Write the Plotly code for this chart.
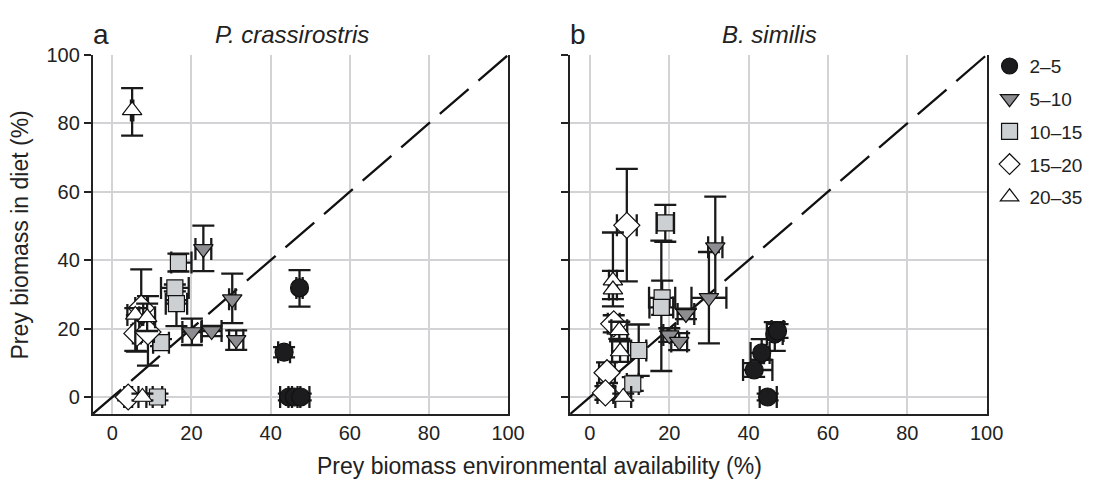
import plotly.graph_objects as go

# ---------------- data ----------------
groups = ["2–5", "5–10", "10–15", "15–20", "20–35"]

# Panel a: P. crassirostris
a_group = ["2–5"] * 5 + ["5–10"] * 5 + ["10–15"] * 5 + ["15–20"] * 4 + ["20–35"] * 4
a_x = [47.3, 43.4, 44.6, 46.0, 47.6,
       23.0, 30.3, 20.1, 25.1, 31.3,
       16.7, 15.8, 16.2, 12.3, 11.4,
       7.3, 6.2, 9.0, 4.0,
       5.0, 5.8, 8.8, 7.6]
a_y = [31.9, 13.1, 0.0, 0.0, 0.0,
       43.3, 28.6, 19.0, 19.3, 16.7,
       39.3, 31.9, 27.3, 15.9, 0.0,
       26.0, 18.6, 19.0, 0.0,
       83.8, 24.0, 23.3, 0.0]
a_ex_lo = [0.8, 1.5, 2.2, 1.5, 2.2,
           2.0, 0.8, 2.4, 2.5, 1.8,
           1.8, 3.5, 2.7, 2.0, 1.2,
           1.5, 1.0, 1.5, 1.0,
           0.3, 2.0, 2.0, 1.0]
a_ex_hi = [0.8, 1.5, 2.2, 1.5, 2.2,
           2.0, 0.8, 2.4, 2.5, 1.8,
           3.3, 3.5, 2.7, 2.0, 1.2,
           1.5, 1.0, 1.5, 1.0,
           0.3, 2.0, 2.0, 1.0]
a_ey_lo = [5.5, 1.5, 1.0, 1.0, 1.0,
           6.5, 7.0, 3.8, 1.5, 2.9,
           2.6, 1.0, 6.6, 1.0, 1.0,
           5.0, 5.3, 9.8, 1.0,
           7.4, 10.5, 4.0, 1.0]
a_ey_hi = [5.2, 1.5, 1.0, 1.0, 1.0,
           6.8, 7.5, 3.9, 1.5, 2.8,
           2.6, 1.0, 1.0, 1.0, 1.0,
           11.3, 5.3, 10.5, 1.0,
           6.5, 2.0, 4.0, 1.0]

# Panel b: B. similis
b_group = ["2–5"] * 5 + ["5–10"] * 5 + ["10–15"] * 5 + ["15–20"] * 4 + ["20–35"] * 5
b_x = [46.6, 47.3, 43.3, 41.4, 44.8,
       31.6, 30.0, 24.2, 20.0, 22.5,
       19.0, 18.2, 18.0, 12.3, 10.8,
       9.3, 6.0, 4.3, 3.9,
       5.8, 5.8, 7.4, 7.6, 8.4]
b_y = [18.4, 19.3, 12.9, 7.9, 0.0,
       43.8, 29.0, 24.3, 18.1, 16.2,
       50.9, 29.0, 26.2, 13.6, 3.8,
       50.2, 21.4, 7.1, 1.2,
       34.0, 31.4, 19.5, 13.3, 0.0]
b_ex_lo = [2.0, 1.5, 2.8, 2.8, 2.0,
           1.8, 4.4, 2.1, 1.5, 2.0,
           2.2, 3.3, 3.0, 1.9, 1.5,
           2.5, 1.5, 2.0, 2.0,
           1.0, 1.0, 2.0, 2.0, 2.0]
b_ex_hi = [2.0, 1.5, 2.0, 4.6, 2.3,
           1.8, 4.4, 2.1, 1.5, 2.0,
           2.2, 3.3, 3.0, 1.9, 1.5,
           2.5, 1.5, 2.0, 2.0,
           1.0, 1.0, 2.0, 2.0, 2.0]
b_ey_lo = [4.9, 2.0, 2.0, 2.0, 1.0,
           14.8, 13.3, 1.5, 2.0, 2.5,
           5.5, 5.0, 18.6, 7.4, 2.0,
           16.4, 2.5, 3.0, 2.0,
           5.4, 4.9, 2.5, 3.0, 1.0]
b_ey_hi = [3.5, 2.0, 4.0, 2.0, 1.0,
           14.8, 13.4, 1.5, 2.0, 2.5,
           5.3, 5.0, 19.5, 7.6, 2.0,
           16.5, 2.5, 3.0, 2.0,
           2.9, 16.7, 2.5, 3.0, 1.0]

diag = [-5, 100]
tick_vals = [0, 20, 40, 60, 80, 100]

# ---------------- styles ----------------
style = {
    "2–5": dict(symbol="circle", color="#1c1c1e", size=18),
    "5–10": dict(symbol="triangle-down", color="#8d8d91", size=17),
    "10–15": dict(symbol="square", color="#cdd0d3", size=16),
    "15–20": dict(symbol="diamond", color="#ffffff", size=20),
    "20–35": dict(symbol="triangle-up", color="#ffffff", size=17),
}
FONT = "Liberation Sans, Arial, Helvetica, sans-serif"
EB = dict(type="data", symmetric=False, color="#1a1a1a", thickness=2.3, width=11)

fig = go.Figure()

panels = [
    ("x", "y", a_group, a_x, a_y, a_ex_lo, a_ex_hi, a_ey_lo, a_ey_hi, False),
    ("x2", "y2", b_group, b_x, b_y, b_ex_lo, b_ex_hi, b_ey_lo, b_ey_hi, True),
]

for xa, ya, grp, xs, ys, exl, exh, eyl, eyh, show in panels:
    fig.add_trace(go.Scatter(x=diag, y=diag, xaxis=xa, yaxis=ya, mode="lines",
                             line=dict(color="#111111", width=2.3, dash="38px,13px"),
                             showlegend=False, hoverinfo="skip"))
    for g in groups:
        idx = [i for i, v in enumerate(grp) if v == g]
        st = style[g]
        fig.add_trace(go.Scatter(
            x=[xs[i] for i in idx], y=[ys[i] for i in idx],
            xaxis=xa, yaxis=ya, mode="markers", name=g, legendgroup=g,
            showlegend=show,
            marker=dict(symbol=st["symbol"], size=st["size"], color=st["color"],
                        line=dict(color="#111111", width=1.2)),
            error_x=dict(EB, array=[exh[i] for i in idx], arrayminus=[exl[i] for i in idx]),
            error_y=dict(EB, array=[eyh[i] for i in idx], arrayminus=[eyl[i] for i in idx]),
        ))

W, H = 1106, 483
def px_x(p): return p / W
def px_y(p): return 1 - p / H

axis_common = dict(range=[-5, 100], tickvals=tick_vals, showgrid=True,
                   gridcolor="#d3d3d5", gridwidth=1.5, zeroline=False,
                   showline=True, linecolor="#222222", linewidth=1.5,
                   tickfont=dict(family=FONT, size=20, color="#222222"))

fig.update_layout(
    width=W, height=H,
    margin=dict(l=0, r=0, t=0, b=0),
    paper_bgcolor="white", plot_bgcolor="white",
    font=dict(family=FONT, color="#222222"),
    xaxis=dict(axis_common, domain=[px_x(94), px_x(516)], anchor="y", ticks=""),
    yaxis=dict(axis_common, domain=[px_y(412.5), px_y(45)], anchor="x",
               ticks="outside", ticklen=7, tickwidth=1.5, tickcolor="#222222", mirror=True),
    xaxis2=dict(axis_common, domain=[px_x(579), px_x(1002)], anchor="y2", ticks=""),
    yaxis2=dict(axis_common, domain=[px_y(412.5), px_y(45)], anchor="x2",
                ticks="outside", ticklen=7, tickwidth=1.5, tickcolor="#222222",
                showticklabels=False, mirror=True),
    legend=dict(x=px_x(1005), y=px_y(37), xanchor="left", yanchor="top",
                font=dict(family=FONT, size=19, color="#222222"),
                tracegroupgap=5, bgcolor="rgba(0,0,0,0)", itemsizing="trace"),
    annotations=[
        dict(text="a", x=px_x(92), y=px_y(24), xref="paper", yref="paper",
             xanchor="left", yanchor="middle", showarrow=False,
             font=dict(family=FONT, size=28, color="#222222")),
        dict(text="b", x=px_x(577), y=px_y(24), xref="paper", yref="paper",
             xanchor="left", yanchor="middle", showarrow=False,
             font=dict(family=FONT, size=28, color="#222222")),
        dict(text="<i>P. crassirostris</i>", x=px_x(297), y=px_y(24), xref="paper", yref="paper",
             xanchor="center", yanchor="middle", showarrow=False,
             font=dict(family=FONT, size=24, color="#222222")),
        dict(text="<i>B. similis</i>", x=px_x(782), y=px_y(24), xref="paper", yref="paper",
             xanchor="center", yanchor="middle", showarrow=False,
             font=dict(family=FONT, size=24, color="#222222")),
        dict(text="Prey biomass environmental availability (%)", x=px_x(548), y=px_y(466),
             xref="paper", yref="paper", xanchor="center", yanchor="middle", showarrow=False,
             font=dict(family=FONT, size=23, color="#222222")),
        dict(text="Prey biomass in diet (%)", x=px_x(20), y=px_y(229), textangle=-90,
             xref="paper", yref="paper", xanchor="center", yanchor="middle", showarrow=False,
             font=dict(family=FONT, size=23, color="#222222")),
    ],
)

fig.write_html("out.html",
               config={"displayModeBar": False},
               post_script="document.body.style.margin='0px';document.body.style.overflow='hidden';")
